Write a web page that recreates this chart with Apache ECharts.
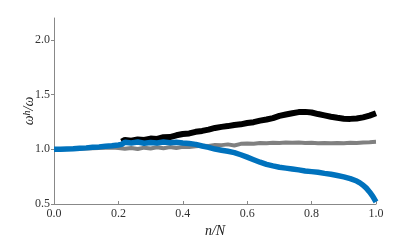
<!DOCTYPE html>
<html><head><meta charset="utf-8">
<script src="https://cdn.jsdelivr.net/npm/echarts@6/dist/echarts.min.js"></script>
<style>html,body{margin:0;padding:0;background:#fff}#c{width:415px;height:243px}</style>
</head><body><div id="c"></div>
<script>
var xTicks = [0, 0.2, 0.4, 0.6, 0.8, 1.0];
var yTicks = [0.5, 1.0, 1.5, 2.0];

var xBlue = [0.00,0.02,0.04,0.06,0.08,0.10,0.12,0.14,0.16,0.18,0.20,0.21,0.22,0.24,0.26,0.28,0.30,0.32,0.34,0.36,0.38,0.40,0.42,0.44,0.46,0.48,0.50,0.52,0.54,0.56,0.58,0.60,0.62,0.64,0.66,0.68,0.70,0.72,0.74,0.76,0.78,0.80,0.82,0.84,0.86,0.88,0.90,0.92,0.94,0.95,0.96,0.97,0.98,0.99,1.00];
var yBlue = [1.000,1.001,1.003,1.005,1.010,1.013,1.018,1.022,1.028,1.032,1.040,1.045,1.065,1.058,1.066,1.055,1.062,1.058,1.066,1.060,1.065,1.058,1.052,1.045,1.030,1.018,1.002,0.992,0.982,0.970,0.950,0.928,0.905,0.882,0.862,0.848,0.836,0.828,0.820,0.812,0.802,0.796,0.790,0.780,0.772,0.760,0.748,0.732,0.710,0.693,0.672,0.645,0.610,0.570,0.520];

var xGray = [0.00,0.02,0.04,0.06,0.08,0.10,0.12,0.14,0.16,0.18,0.20,0.22,0.24,0.26,0.28,0.30,0.32,0.34,0.36,0.38,0.40,0.42,0.44,0.46,0.48,0.50,0.52,0.54,0.56,0.58,0.60,0.62,0.64,0.66,0.68,0.70,0.72,0.74,0.76,0.78,0.80,0.82,0.84,0.86,0.88,0.90,0.92,0.94,0.96,0.98,1.00];
var yGray = [1.000,1.000,1.002,1.004,1.006,1.008,1.010,1.012,1.014,1.016,1.012,1.004,1.012,1.003,1.015,1.008,1.018,1.010,1.020,1.012,1.022,1.020,1.028,1.032,1.030,1.040,1.038,1.045,1.035,1.050,1.052,1.050,1.058,1.055,1.060,1.058,1.062,1.060,1.063,1.058,1.060,1.056,1.058,1.055,1.058,1.056,1.060,1.058,1.063,1.065,1.068];

var xBlack = [0.21,0.22,0.24,0.26,0.28,0.30,0.32,0.34,0.36,0.38,0.40,0.42,0.44,0.46,0.48,0.50,0.52,0.54,0.56,0.58,0.60,0.62,0.64,0.66,0.68,0.70,0.72,0.74,0.76,0.78,0.80,0.82,0.84,0.86,0.88,0.90,0.92,0.94,0.96,0.98,1.00];
var yBlack = [1.070,1.085,1.078,1.090,1.085,1.098,1.095,1.110,1.112,1.128,1.140,1.145,1.160,1.168,1.180,1.195,1.205,1.212,1.222,1.228,1.240,1.248,1.262,1.272,1.285,1.305,1.318,1.330,1.340,1.342,1.336,1.322,1.310,1.298,1.288,1.280,1.278,1.282,1.292,1.308,1.330];

function pairs(xs, ys){ return xs.map(function(x,i){ return [x, ys[i]]; }); }

var serif = "'Liberation Serif', 'DejaVu Serif', serif";
var chart = echarts.init(document.getElementById('c'), null, {renderer:'canvas'});
chart.setOption({
  animation:false,
  backgroundColor:'#fff',
  grid:{left:54, right:39, top:18, bottom:39, containLabel:false, outerBoundsMode:'none'},
  xAxis:{
    type:'value', min:0, max:1, interval:0.2,
    name:'n/N', nameLocation:'middle', nameGap:20, nameMoveOverlap:false,
    nameTextStyle:{fontFamily:serif, fontStyle:'italic', fontSize:14, color:'#222'},
    axisLine:{show:true, lineStyle:{color:'#888', width:1}},
    axisTick:{show:true, inside:true, length:3, lineStyle:{color:'#888'}, customValues:xTicks},
    axisLabel:{fontFamily:serif, fontSize:12, color:'#333', margin:4, customValues:xTicks,
      formatter:function(v){return v.toFixed(1);}},
    splitLine:{show:false}
  },
  yAxis:{
    type:'value', min:0.5, max:2.2, interval:0.5,
    name:'{i|ω}{s|h}{i|/ω}', nameLocation:'middle', nameGap:18, nameRotate:90, nameMoveOverlap:false,
    nameTextStyle:{fontFamily:serif, fontSize:14, color:'#222',
      rich:{i:{fontFamily:serif, fontStyle:'italic', fontSize:14, color:'#222'},
            s:{fontFamily:serif, fontStyle:'italic', fontSize:10, color:'#222', verticalAlign:'top', padding:[0,0,4,0]}}},
    axisLine:{show:true, lineStyle:{color:'#888', width:1}},
    axisTick:{show:true, inside:false, length:3, lineStyle:{color:'#888'}, customValues:yTicks},
    axisLabel:{fontFamily:serif, fontSize:12, color:'#333', margin:4, customValues:yTicks,
      formatter:function(v){return v.toFixed(1);}},
    splitLine:{show:false}
  },
  series:[
    {type:'line', data:pairs(xGray,yGray), showSymbol:false, smooth:false,
     lineStyle:{color:'#808080', width:4}, z:2},
    {type:'line', data:pairs(xBlack,yBlack), showSymbol:false,
     lineStyle:{color:'#000', width:6}, z:3},
    {type:'line', data:pairs(xBlue,yBlue), showSymbol:false,
     lineStyle:{color:'#0072BD', width:5.5}, z:4}
  ]
});
</script></body></html>
